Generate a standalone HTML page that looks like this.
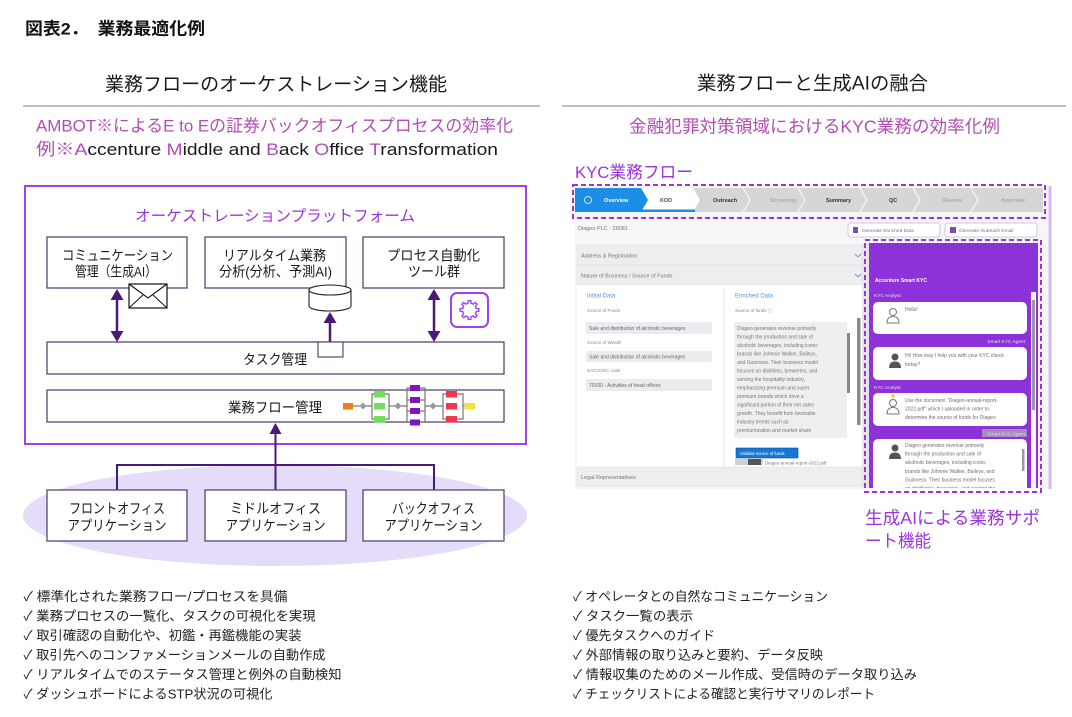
<!DOCTYPE html>
<html><head><meta charset="utf-8">
<style>
html,body{margin:0;padding:0;background:#fff;}
svg{display:block;}
text{font-family:"Liberation Sans","Noto Sans CJK JP",sans-serif;}
.jp{font-size:14px;fill:#1a1a1a;}
.li{font-size:13px;fill:#222;}
.t{font-size:5.5px;fill:#777;}
.tb{font-size:5.5px;font-weight:bold;}
.w{font-size:5px;fill:#6f6f6f;}
</style></head>
<body>
<svg width="1072" height="717" viewBox="0 0 1072 717" xmlns="http://www.w3.org/2000/svg">
<defs>
<clipPath id="cp"><rect x="869" y="243" width="169" height="245"/></clipPath>
<filter id="bl" x="0" y="0" width="1" height="1"><feGaussianBlur stdDeviation="0.35"/></filter>
</defs>
<rect width="1072" height="717" fill="#fff"/>

<!-- Title -->
<text x="25" y="34.4" font-size="17" font-weight="bold" fill="#111" textLength="180" lengthAdjust="spacingAndGlyphs">図表2．　業務最適化例</text>

<!-- Left header -->
<text x="105" y="90.6" font-size="19" fill="#1a1a1a" textLength="342" lengthAdjust="spacingAndGlyphs">業務フローのオーケストレーション機能</text>
<line x1="23" y1="106" x2="540" y2="106" stroke="#9a9a9a" stroke-width="1.2"/>
<text x="36" y="131.4" font-size="17" fill="#b24db5" textLength="477" lengthAdjust="spacingAndGlyphs">AMBOT※によるE to Eの証券バックオフィスプロセスの効率化</text>
<text x="36" y="154.8" font-size="17" fill="#1a1a1a" textLength="462" lengthAdjust="spacingAndGlyphs"><tspan fill="#b24db5">例※A</tspan><tspan>ccenture </tspan><tspan fill="#b24db5">M</tspan><tspan>iddle and </tspan><tspan fill="#b24db5">B</tspan><tspan>ack </tspan><tspan fill="#b24db5">O</tspan><tspan>ffice </tspan><tspan fill="#b24db5">T</tspan><tspan>ransformation</tspan></text>

<!-- Right header -->
<text x="697" y="89.6" font-size="19" fill="#1a1a1a" textLength="231" lengthAdjust="spacingAndGlyphs">業務フローと生成AIの融合</text>
<line x1="562" y1="106" x2="1066" y2="106" stroke="#9a9a9a" stroke-width="1.2"/>
<text x="629" y="132.5" font-size="17.5" fill="#b24db5" textLength="371" lengthAdjust="spacingAndGlyphs">金融犯罪対策領域におけるKYC業務の効率化例</text>

<!-- ===== Left diagram ===== -->
<ellipse cx="275" cy="515.5" rx="252" ry="50.5" fill="#e4dcf8"/>
<rect x="25" y="186" width="501" height="258" fill="none" stroke="#a142e6" stroke-width="2"/>
<text x="135" y="220.8" font-size="15.5" fill="#9d33dc" textLength="280" lengthAdjust="spacingAndGlyphs">オーケストレーションプラットフォーム</text>

<g fill="#fff" stroke="#5a4575" stroke-width="1.3">
<rect x="47" y="237" width="140" height="51"/>
<rect x="205" y="237" width="141" height="51"/>
<rect x="363" y="237" width="141" height="51"/>
<rect x="47" y="342" width="457" height="32"/>
<rect x="47" y="390" width="457" height="32"/>
</g>
<text class="jp" x="62" y="260.3" textLength="111" lengthAdjust="spacingAndGlyphs">コミュニケーション</text>
<text class="jp" x="75" y="276.3" textLength="82" lengthAdjust="spacingAndGlyphs">管理（生成AI）</text>
<text class="jp" x="223" y="260.3" textLength="103" lengthAdjust="spacingAndGlyphs">リアルタイム業務</text>
<text class="jp" x="219" y="276.3" textLength="113" lengthAdjust="spacingAndGlyphs">分析(分析、予測AI)</text>
<text class="jp" x="387" y="260.3" textLength="93" lengthAdjust="spacingAndGlyphs">プロセス自動化</text>
<text class="jp" x="408" y="276.3" textLength="52" lengthAdjust="spacingAndGlyphs">ツール群</text>
<text class="jp" x="243" y="364.3" textLength="64" lengthAdjust="spacingAndGlyphs">タスク管理</text>
<text class="jp" x="228" y="412.3" textLength="94" lengthAdjust="spacingAndGlyphs">業務フロー管理</text>

<!-- envelope -->
<rect x="129" y="284" width="38" height="24" fill="#fff" stroke="#111" stroke-width="1.2"/>
<polyline points="129,284 148,298 167,284" fill="none" stroke="#111" stroke-width="1.1"/>
<line x1="129" y1="308" x2="143" y2="295" stroke="#111" stroke-width="1"/>
<line x1="167" y1="308" x2="153" y2="295" stroke="#111" stroke-width="1"/>

<!-- cylinder -->
<path d="M309,290 L309,306 A21,5 0 0 0 351,306 L351,290" fill="#fff" stroke="#222" stroke-width="1.1"/>
<ellipse cx="330" cy="290" rx="21" ry="5" fill="#fff" stroke="#222" stroke-width="1.1"/>

<!-- gear -->
<rect x="451" y="293" width="37" height="34" rx="6" fill="#fff" stroke="#a142e6" stroke-width="2"/>
<g transform="translate(469.5,310)">
<polygon fill="none" stroke="#a142e6" stroke-width="1.4" stroke-linejoin="round" points="6.847,-1.455 9.408,-1.322 9.408,1.322 6.847,1.455 5.871,3.812 7.587,5.717 5.717,7.587 3.812,5.871 1.455,6.847 1.322,9.408 -1.322,9.408 -1.455,6.847 -3.812,5.871 -5.717,7.587 -7.587,5.717 -5.871,3.812 -6.847,1.455 -9.408,1.322 -9.408,-1.322 -6.847,-1.455 -5.871,-3.812 -7.587,-5.717 -5.717,-7.587 -3.812,-5.871 -1.455,-6.847 -1.322,-9.408 1.322,-9.408 1.455,-6.847 3.812,-5.871 5.717,-7.587 7.587,-5.717 5.871,-3.812"/>
</g>

<!-- arrows -->
<g stroke="#4b1a78" stroke-width="2.5" fill="#4b1a78">
<line x1="117" y1="298" x2="117" y2="333"/>
<polygon stroke="none" points="117,289 110.5,300 123.5,300"/>
<polygon stroke="none" points="117,342 110.5,331 123.5,331"/>
<line x1="434" y1="298" x2="434" y2="333"/>
<polygon stroke="none" points="434,289 427.5,300 440.5,300"/>
<polygon stroke="none" points="434,342 427.5,331 440.5,331"/>
<line x1="330" y1="321" x2="330" y2="342"/>
<polygon stroke="none" points="330,312 323.5,323 336.5,323"/>
</g>
<rect x="318" y="342" width="25" height="15" fill="#fff" stroke="#5a4575" stroke-width="1.2"/>

<!-- flow icons -->
<g stroke="#777" stroke-width="1.2" fill="none">
<line x1="353" y1="406" x2="372" y2="406"/>
<line x1="389" y1="406" x2="407" y2="406"/>
<line x1="425" y1="406" x2="443" y2="406"/>
<line x1="463" y1="406" x2="465" y2="406"/>
<polyline points="376,394 372,394 372,419 376,419"/>
<polyline points="385,394 389,394 389,419 385,419"/>
<polyline points="412,388 407,388 407,422 412,422"/>
<polyline points="418,388 425,388 425,422 418,422"/>
<line x1="407" y1="400" x2="410" y2="400"/><line x1="407" y1="411" x2="410" y2="411"/>
<line x1="420" y1="400" x2="425" y2="400"/><line x1="420" y1="411" x2="425" y2="411"/>
<polyline points="449,394 443,394 443,419 449,419"/>
<polyline points="455,394 463,394 463,419 455,419"/>
</g>
<g fill="#999">
<polygon points="363,402.5 366.5,406 363,409.5 359.5,406"/>
<polygon points="398,402.5 401.5,406 398,409.5 394.5,406"/>
<polygon points="433,402.5 436.5,406 433,409.5 429.5,406"/>
</g>
<rect x="343" y="403" width="10" height="6.5" fill="#f07f1a"/>
<g fill="#6ee05a">
<rect x="374" y="391" width="11" height="6.5"/><rect x="374" y="403" width="11" height="6.5"/><rect x="374" y="416" width="11" height="6.5"/>
</g>
<g fill="#7b16c0">
<rect x="410" y="385" width="10" height="6"/><rect x="410" y="397" width="10" height="6"/><rect x="410" y="408" width="10" height="6"/><rect x="410" y="419.5" width="10" height="6"/>
</g>
<g fill="#f0384a">
<rect x="446" y="391" width="11" height="6.5"/><rect x="446" y="403" width="11" height="6.5"/><rect x="446" y="416" width="11" height="6.5"/>
</g>
<rect x="464.5" y="403" width="10.5" height="6.5" fill="#f5e23a"/>

<!-- bottom connectors -->
<g stroke="#4b1a78" stroke-width="2" fill="none">
<line x1="275.5" y1="432" x2="275.5" y2="490"/>
<polyline points="117,490 117,465 434,465 434,490"/>
</g>
<polygon points="275.5,423 269.5,434 281.5,434" fill="#4b1a78"/>

<g fill="#fff" stroke="#5a4575" stroke-width="1.3">
<rect x="47" y="490" width="140" height="51"/>
<rect x="205" y="490" width="141" height="51"/>
<rect x="363" y="490" width="141" height="51"/>
</g>
<text class="jp" x="69" y="513.3" textLength="96" lengthAdjust="spacingAndGlyphs">フロントオフィス</text>
<text class="jp" x="67.5" y="530.3" textLength="99" lengthAdjust="spacingAndGlyphs">アプリケーション</text>
<text class="jp" x="230" y="513.3" textLength="91" lengthAdjust="spacingAndGlyphs">ミドルオフィス</text>
<text class="jp" x="225.5" y="530.3" textLength="100" lengthAdjust="spacingAndGlyphs">アプリケーション</text>
<text class="jp" x="392" y="513.3" textLength="83" lengthAdjust="spacingAndGlyphs">バックオフィス</text>
<text class="jp" x="384.5" y="530.3" textLength="98" lengthAdjust="spacingAndGlyphs">アプリケーション</text>

<!-- left checklist -->
<text class="li" x="23.5" y="600.9" textLength="264" lengthAdjust="spacingAndGlyphs">✓ 標準化された業務フロー/プロセスを具備</text>
<text class="li" x="23.5" y="620.4" textLength="292" lengthAdjust="spacingAndGlyphs">✓ 業務プロセスの一覧化、タスクの可視化を実現</text>
<text class="li" x="23.5" y="639.9" textLength="278" lengthAdjust="spacingAndGlyphs">✓ 取引確認の自動化や、初鑑・再鑑機能の実装</text>
<text class="li" x="23.5" y="659.4" textLength="302" lengthAdjust="spacingAndGlyphs">✓ 取引先へのコンファメーションメールの自動作成</text>
<text class="li" x="23.5" y="678.9" textLength="318" lengthAdjust="spacingAndGlyphs">✓ リアルタイムでのステータス管理と例外の自動検知</text>
<text class="li" x="23.5" y="698.4" textLength="249" lengthAdjust="spacingAndGlyphs">✓ ダッシュボードによるSTP状況の可視化</text>

<!-- right checklist -->
<text class="li" x="573" y="600.9" textLength="255" lengthAdjust="spacingAndGlyphs">✓ オペレータとの自然なコミュニケーション</text>
<text class="li" x="573" y="620.4" textLength="120" lengthAdjust="spacingAndGlyphs">✓ タスク一覧の表示</text>
<text class="li" x="573" y="639.9" textLength="142" lengthAdjust="spacingAndGlyphs">✓ 優先タスクへのガイド</text>
<text class="li" x="573" y="659.4" textLength="250" lengthAdjust="spacingAndGlyphs">✓ 外部情報の取り込みと要約、データ反映</text>
<text class="li" x="573" y="678.9" textLength="344" lengthAdjust="spacingAndGlyphs">✓ 情報収集のためのメール作成、受信時のデータ取り込み</text>
<text class="li" x="573" y="698.4" textLength="302" lengthAdjust="spacingAndGlyphs">✓ チェックリストによる確認と実行サマリのレポート</text>

<!-- ===== Right: KYC screenshot ===== -->
<text x="575" y="178" font-size="17" fill="#9d33dc" textLength="118" lengthAdjust="spacingAndGlyphs">KYC業務フロー</text>

<g filter="url(#bl)">
<rect x="575" y="187" width="473" height="302" fill="#f6f6f8"/>
<!-- step bar -->
<rect x="575" y="188" width="468" height="24" fill="#d6d6d6"/>
<polygon points="641,188 693,188 700,200 693,212 641,212 648,200" fill="#fff"/>
<rect x="641" y="209.5" width="54" height="2.5" fill="#1c8ee6"/>
<polygon points="575,188 641,188 648,200 641,212 575,212" fill="#1c8ee6"/>
<g fill="none" stroke="#f2f2f2" stroke-width="1.5">
<polyline points="743,188 750,200 743,212"/>
<polyline points="798,188 805,200 798,212"/>
<polyline points="860,188 867,200 860,212"/>
<polyline points="913,188 920,200 913,212"/>
<polyline points="971,188 978,200 971,212"/>
</g>
<circle cx="588" cy="200" r="3.5" fill="none" stroke="#fff" stroke-width="0.8"/>
<text class="tb" x="604" y="202" fill="#fff">Overview</text>
<text class="tb" x="660" y="202" fill="#555">KDD</text>
<text class="tb" x="713" y="202" fill="#333">Outreach</text>
<text class="tb" x="770" y="202" fill="#aaa">Screening</text>
<text class="tb" x="826" y="202" fill="#333">Summary</text>
<text class="tb" x="889" y="202" fill="#333">QC</text>
<text class="tb" x="943" y="202" fill="#aaa">Review</text>
<text class="tb" x="1001" y="202" fill="#aaa">Approval</text>

<text class="t" x="578" y="230" fill="#666">Diageo PLC - 26081</text>
<rect x="848" y="223" width="92" height="14" rx="3" fill="#fff" stroke="#d2c2ea" stroke-width="1"/>
<rect x="853" y="227" width="5" height="6" fill="#7a4fb0"/>
<text x="862" y="232" font-size="4.8" fill="#7a6a9a">Generate Enriched Data</text>
<rect x="945" y="223" width="92" height="14" rx="3" fill="#fff" stroke="#d2c2ea" stroke-width="1"/>
<rect x="950" y="227" width="6" height="6" fill="#7a4fb0"/>
<text x="959" y="232" font-size="4.8" fill="#7a6a9a">Generate Outreach Email</text>

<!-- accordions -->
<rect x="577" y="245" width="285" height="20" fill="#eeeef1" stroke="#dedee2" stroke-width="0.6"/>
<text class="t" x="581" y="257.5" fill="#5a9be0">Address &amp; Registration</text>
<rect x="577" y="265" width="285" height="20" fill="#eeeef1" stroke="#dedee2" stroke-width="0.6"/>
<text class="t" x="581" y="277.5" fill="#5a9be0">Nature of Business / Source of Funds</text>
<g fill="none" stroke="#5a9be0" stroke-width="0.9">
<polyline points="855,254 858,257 861,254"/>
<polyline points="855,274 858,277 861,274"/>
<polyline points="855,475 858,478 861,475"/>
</g>
<rect x="577" y="285" width="285" height="182" fill="#fff"/>
<line x1="724" y1="288" x2="724" y2="466" stroke="#e2e2e6" stroke-width="0.8"/>
<text x="587" y="297.5" font-size="6" fill="#4d95e0">Initial Data</text>
<text x="735" y="297.5" font-size="6" fill="#4d95e0">Enriched Data</text>
<text x="587" y="312" font-size="4.5" fill="#888">Source of Funds</text>
<rect x="586" y="322" width="126" height="12" fill="#ececf0"/>
<text x="589" y="330" font-size="5" fill="#666">Sale and distribution of alcoholic beverages</text>
<text x="587" y="344" font-size="4.5" fill="#888">Source of Wealth</text>
<rect x="586" y="351" width="126" height="11" fill="#ececf0"/>
<text x="589" y="358.5" font-size="5" fill="#666">Sale and distribution of alcoholic beverages</text>
<text x="587" y="372" font-size="4.5" fill="#888">NAICS/SIC code</text>
<rect x="586" y="379" width="126" height="12" fill="#ececf0"/>
<text x="589" y="387" font-size="5" fill="#666">70100 - Activities of head offices</text>

<text x="735" y="312" font-size="4.5" fill="#888">Source of funds ⓘ</text>
<rect x="734" y="322" width="113" height="116" fill="#efeff2"/>
<g font-size="5" fill="#777">
<text x="737" y="330">Diageo generates revenue primarily</text>
<text x="737" y="338.5">through the production and sale of</text>
<text x="737" y="347">alcoholic beverages, including iconic</text>
<text x="737" y="355.5">brands like Johnnie Walker, Baileys,</text>
<text x="737" y="364">and Guinness. Their business model</text>
<text x="737" y="372.5">focuses on distillries, breweries, and</text>
<text x="737" y="381">serving the hospitality industry,</text>
<text x="737" y="389.5">emphasizing premium and super</text>
<text x="737" y="398">premium brands which drive a</text>
<text x="737" y="406.5">significant portion of their net sales</text>
<text x="737" y="415">growth. They benefit from favorable</text>
<text x="737" y="423.5">industry trends such as</text>
<text x="737" y="432">premiumization and market share</text>
</g>
<rect x="847" y="333" width="3" height="60" fill="#888"/>
<rect x="857" y="318" width="3.5" height="107" fill="#8a8a8a"/>
<rect x="736" y="448" width="62" height="10" fill="#1877d6" stroke="#0d4d99" stroke-width="0.6"/>
<text x="740" y="455" font-size="4.2" fill="#fff">Validate source of funds</text>
<rect x="735" y="459" width="28" height="6" fill="#d0d0d4"/>
<rect x="748" y="459" width="13" height="6" fill="#555"/>
<text x="765" y="464.5" font-size="4.5" fill="#777">Diageo-annual-report-2022.pdf</text>
<rect x="577" y="467" width="285" height="19" fill="#eeeef1" stroke="#dedee2" stroke-width="0.6"/>
<text class="t" x="581" y="479" fill="#5a9be0">Legal Representatives</text>

<rect x="862" y="243" width="7" height="245" fill="#e6e6ea"/>

<!-- chat panel -->
<rect x="869" y="243" width="169" height="245" fill="#8d30d8"/>
<g clip-path="url(#cp)">
<text x="875" y="282" font-size="5" font-weight="bold" fill="#fff">Accenture Smart KYC</text>
<text x="874" y="297" font-size="4.8" fill="#eadcf8">KYC Analyst</text>
<rect x="873" y="302" width="154" height="32" rx="5" fill="#fff"/>
<circle cx="893" cy="312" r="3.5" fill="none" stroke="#777" stroke-width="1"/>
<path d="M887,323 Q887,316.5 893,316.5 Q899,316.5 899,323 Z" fill="none" stroke="#777" stroke-width="1"/>
<text class="w" x="905" y="311">Hello!</text>
<text x="1025" y="343" font-size="4.8" fill="#eadcf8" text-anchor="end">Smart KYC Agent</text>
<rect x="873" y="347" width="154" height="33" rx="5" fill="#fff"/>
<circle cx="895" cy="357" r="3.5" fill="#555"/>
<path d="M889,368 Q889,361.5 895,361.5 Q901,361.5 901,368 Z" fill="#555"/>
<text class="w" x="905" y="357">Hi! How may I help you with your KYC check</text>
<text class="w" x="905" y="366">today?</text>
<text x="874" y="389" font-size="4.8" fill="#eadcf8">KYC Analyst</text>
<rect x="873" y="393" width="154" height="33" rx="5" fill="#fff"/>
<circle cx="893" cy="396" r="1.6" fill="#f0c020"/>
<circle cx="893" cy="403" r="3.5" fill="none" stroke="#777" stroke-width="1"/>
<path d="M887,414 Q887,407.5 893,407.5 Q899,407.5 899,414 Z" fill="none" stroke="#777" stroke-width="1"/>
<text class="w" x="905" y="402">Use the document "Diageo-annual-report-</text>
<text class="w" x="905" y="410.5">2022.pdf" which I uploaded in order to</text>
<text class="w" x="905" y="419">determine the source of funds for Diageo</text>
<rect x="982" y="429" width="45" height="8" fill="#a58cc0"/>
<text x="1025" y="435.5" font-size="4.8" fill="#e0e0e0" text-anchor="end">Smart KYC Agent</text>
<rect x="873" y="439" width="154" height="60" rx="5" fill="#fff"/>
<circle cx="895" cy="448" r="3.5" fill="#555"/>
<path d="M889,459 Q889,452.5 895,452.5 Q901,452.5 901,459 Z" fill="#555"/>
<text class="w" x="905" y="447">Diageo generates revenue primarily</text>
<text class="w" x="905" y="455.6">through the production and sale of</text>
<text class="w" x="905" y="464.2">alcoholic beverages, including iconic</text>
<text class="w" x="905" y="472.8">brands like Johnnie Walker, Baileys, and</text>
<text class="w" x="905" y="481.4">Guinness. Their business model focuses</text>
<text class="w" x="905" y="490">on distilleries, breweries, and serving the</text>
<rect x="1022" y="449" width="2.5" height="22" fill="#999"/>
<rect x="1031" y="292" width="5" height="196" fill="#f4f4f6"/>
<rect x="1032" y="300" width="3" height="110" fill="#9a9a9a"/>
</g>
</g>

<line x1="1050" y1="186" x2="1050" y2="489" stroke="#d4b8f0" stroke-width="3"/>
<rect x="573" y="185" width="472" height="33" fill="none" stroke="#9d33dc" stroke-width="2" stroke-dasharray="5,3"/>
<rect x="865" y="240" width="176" height="252" fill="none" stroke="#9d33dc" stroke-width="2" stroke-dasharray="5,3"/>

<text x="865" y="524" font-size="17.5" fill="#9d33dc" textLength="175" lengthAdjust="spacingAndGlyphs">生成AIによる業務サポ</text>
<text x="865" y="547" font-size="17.5" fill="#9d33dc" textLength="66" lengthAdjust="spacingAndGlyphs">ート機能</text>
</svg>
</body></html>
